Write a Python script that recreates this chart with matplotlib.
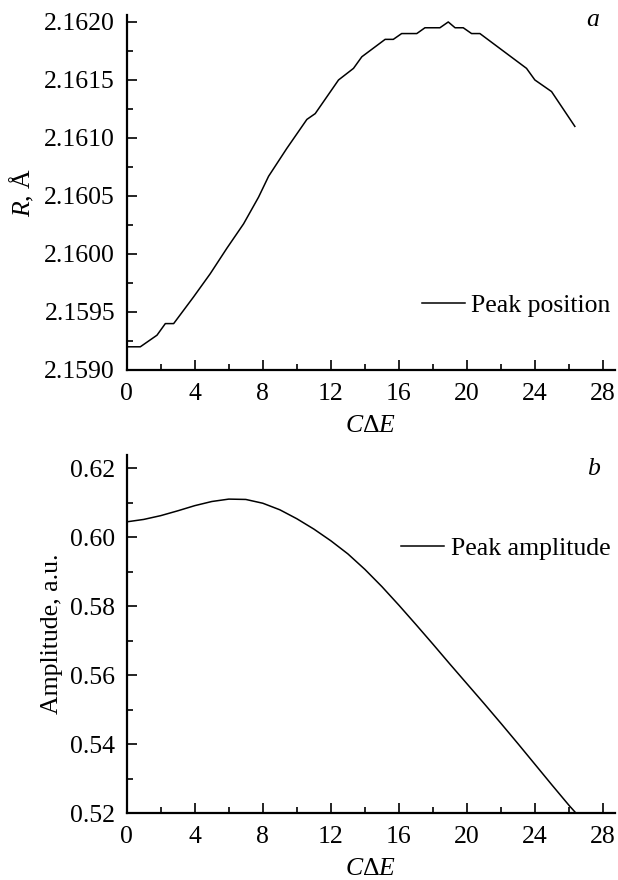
import matplotlib
matplotlib.use("Agg")
import matplotlib.pyplot as plt
from matplotlib.ticker import MultipleLocator, FormatStrFormatter

plt.rcParams['font.family'] = ['Liberation Serif', 'DejaVu Serif']
plt.rcParams['mathtext.fontset'] = 'custom'
plt.rcParams['mathtext.rm'] = 'Liberation Serif'
plt.rcParams['mathtext.it'] = 'Liberation Serif:italic'

# Panel a: peak position
x_pos = [0.0, 0.8, 1.78, 2.27, 2.76, 3.93, 4.91, 5.89, 6.87, 7.75, 8.34, 9.41,
         10.59, 11.08, 12.45, 13.33, 13.82, 15.19, 15.67, 16.16, 17.05, 17.53,
         18.41, 18.9, 19.3, 19.78, 20.27, 20.76, 23.5, 23.99, 24.97, 26.34]
r_pos = [2.1592, 2.1592, 2.1593, 2.1594, 2.1594, 2.15963, 2.15983, 2.16005,
         2.16026, 2.16049, 2.16067, 2.16091, 2.16116, 2.16121, 2.16150, 2.16160,
         2.16170, 2.16185, 2.16185, 2.16190, 2.16190, 2.16195, 2.16195, 2.16200,
         2.16195, 2.16195, 2.16190, 2.16190, 2.16160, 2.16150, 2.16140, 2.16110]

# Panel b: peak amplitude
x_amp = [0, 1, 2, 3, 4, 5, 6, 7, 8, 9, 10, 11, 12, 13, 14, 15, 16, 17, 18, 19,
         20, 21, 22, 23, 24, 25, 26, 26.4]
amp = [0.6045, 0.6052, 0.6063, 0.6077, 0.6092, 0.6104, 0.6111, 0.6110, 0.6099,
       0.6080, 0.6054, 0.6024, 0.5990, 0.5952, 0.5907, 0.5857, 0.5803, 0.5747,
       0.5690, 0.5632, 0.5575, 0.5518, 0.5460, 0.5401, 0.5341, 0.5281, 0.5222,
       0.5200]

FS = 18.5

fig = plt.figure(figsize=(6.18, 8.8), dpi=100)
W, H = 618.0, 880.0
L, R = 126.7, 615.0
ax1 = fig.add_axes([L / W, 1 - 370 / H, (R - L) / W, (370 - 15) / H])
ax2 = fig.add_axes([L / W, 1 - 813 / H, (R - L) / W, (813 - 455) / H])

def style(ax):
    for s in ['top', 'right']:
        ax.spines[s].set_visible(False)
    for s in ['left', 'bottom']:
        ax.spines[s].set_linewidth(1.6)
    ax.tick_params(which='both', direction='in', labelsize=FS, width=1.2)
    ax.tick_params(axis='x', pad=9.4)
    ax.tick_params(axis='y', pad=8.4)
    ax.tick_params(which='major', length=7)
    ax.tick_params(which='minor', length=4.5)
    ax.xaxis.set_major_locator(MultipleLocator(4))
    ax.xaxis.set_minor_locator(MultipleLocator(2))
    ax.set_xlim(0, 28.7)
    ax.set_xlabel(r'$C\Delta E$', fontsize=FS, labelpad=7)

ax1.plot(x_pos, r_pos, color='black', lw=1.1, label='Peak position')
style(ax1)
ax1.set_ylim(2.1590, 2.16206)
ax1.yaxis.set_major_locator(MultipleLocator(0.0005))
ax1.yaxis.set_minor_locator(MultipleLocator(0.00025))
ax1.yaxis.set_major_formatter(FormatStrFormatter('%.4f'))
ax1.set_ylabel(r'$R$, Å', fontsize=FS, labelpad=6)
ax1.legend(loc='center left', bbox_to_anchor=(0.604, 0.181), frameon=False,
           fontsize=FS, borderpad=0, borderaxespad=0, handlelength=1.67,
           handletextpad=0.26)
ax1.text(0.955, 0.986, 'a', transform=ax1.transAxes, fontsize=FS,
         style='italic', ha='center', va='center')

ax2.plot(x_amp, amp, color='black', lw=1.1, label='Peak amplitude')
style(ax2)
ax2.set_ylim(0.52, 0.6239)
ax2.yaxis.set_major_locator(MultipleLocator(0.02))
ax2.yaxis.set_minor_locator(MultipleLocator(0.01))
ax2.yaxis.set_major_formatter(FormatStrFormatter('%.2f'))
ax2.set_ylabel('Amplitude, a.u.', fontsize=FS, labelpad=5)
ax2.legend(loc='center left', bbox_to_anchor=(0.562, 0.739), frameon=False,
           fontsize=FS, borderpad=0, borderaxespad=0, handlelength=1.67,
           handletextpad=0.26)
ax2.text(0.955, 0.961, 'b', transform=ax2.transAxes, fontsize=FS,
         style='italic', ha='center', va='center')

fig.savefig('out.png', dpi=100)
